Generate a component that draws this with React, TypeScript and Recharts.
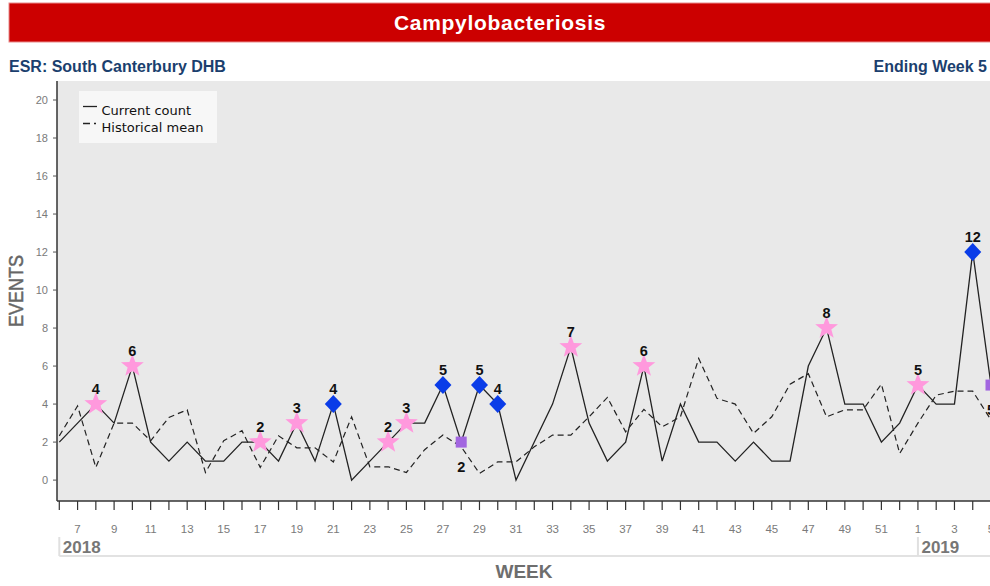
import { LineChart, Line, XAxis, YAxis, CartesianGrid, Legend } from 'recharts';

// week 6 of 2018 through week 5 of 2019
const WEEKS = [
  6, 7, 8, 9, 10, 11, 12, 13, 14, 15, 16, 17, 18, 19, 20, 21, 22, 23, 24, 25, 26, 27, 28, 29,
  30, 31, 32, 33, 34, 35, 36, 37, 38, 39, 40, 41, 42, 43, 44, 45, 46, 47, 48, 49, 50, 51, 52,
  1, 2, 3, 4, 5,
];
const YEARS = ['2018', '2019'];
const YEAR_START_WEEKS = [6, 1];

const CURRENT_COUNT = [
  2, 3, 4, 3, 6, 2, 1, 2, 1, 1, 2, 2, 1, 3, 1, 4,
  0, 1, 2, 3, 3, 5, 2, 5, 4, 0, 2, 4, 7, 3, 1, 2, 6,
  1, 4, 2, 2, 1, 2, 1, 1, 6, 8, 4, 4, 2, 3,
  5, 4, 4, 12, 5,
];
const HISTORICAL_MEAN = [
  2.33, 3.9, 0.67, 3.0, 3.0, 2.07, 3.3, 3.7, 0.4, 2.07, 2.6, 0.67, 2.33, 1.7, 1.7, 0.95,
  3.33, 0.7, 0.7, 0.4, 1.6, 2.37, 1.75, 0.35, 0.96, 0.96, 1.75, 2.37, 2.37, 3.33, 4.35, 2.54, 3.72,
  2.8, 3.33, 6.4, 4.3, 4.0, 2.46, 3.33, 5.05, 5.6, 3.33, 3.7, 3.7, 5.05, 1.4,
  3.0, 4.47, 4.68, 4.68, 3.16,
];

// flagged weeks
const STAR_WEEKS = [8, 10, 17, 19, 24, 25, 34, 38, 48, 1];
const DIAMOND_WEEKS = [21, 27, 29, 30, 4];
const SQUARE_WEEKS = [28, 5];

const Y_TICKS = [0, 2, 4, 6, 8, 10, 12, 14, 16, 18, 20];

const data = WEEKS.map((week, i) => ({
  idx: i,
  week,
  current: CURRENT_COUNT[i],
  mean: HISTORICAL_MEAN[i],
}));

const SANS = 'Liberation Sans, Arial, sans-serif';
const AXIS_GREY = '#7a7a7a';

const starPoints = (cx: number, cy: number, R: number, r: number) =>
  Array.from({ length: 10 }, (_, k) => {
    const a = -Math.PI / 2 + (k * Math.PI) / 5;
    const rad = k % 2 ? r : R;
    return `${cx + rad * Math.cos(a)},${cy + rad * Math.sin(a)}`;
  }).join(' ');

const renderDot = (props: any) => {
  const { cx, cy, index } = props;
  const week = WEEKS[index];
  const value = CURRENT_COUNT[index];
  const labelStyle = { fontFamily: SANS, fontWeight: 700, fontSize: 14.5, fill: '#111' };

  if (STAR_WEEKS.includes(week)) {
    return (
      <g key={`dot-${index}`}>
        <polygon points={starPoints(cx, cy, 12, 5)} fill="#ff99dd" />
        <text x={cx} y={cy - 10.5} textAnchor="middle" {...labelStyle}>{value}</text>
      </g>
    );
  }
  if (DIAMOND_WEEKS.includes(week)) {
    return (
      <g key={`dot-${index}`}>
        <polygon points={`${cx},${cy - 9} ${cx + 8.5},${cy} ${cx},${cy + 9} ${cx - 8.5},${cy}`} fill="#0a3ce8" />
        <text x={cx} y={cy - 10.5} textAnchor="middle" {...labelStyle}>{value}</text>
      </g>
    );
  }
  if (SQUARE_WEEKS.includes(week)) {
    return (
      <g key={`dot-${index}`}>
        <rect x={cx - 5.5} y={cy - 5.5} width={11} height={11} fill="#a266e0" />
        <text x={cx} y={cy + 30} textAnchor="middle" {...labelStyle}>{value}</text>
      </g>
    );
  }
  return <g key={`dot-${index}`} />;
};

const WeekTick = (props: any) => {
  const { x, y, payload } = props;
  const week = WEEKS[payload.value];
  const yearIdx = YEAR_START_WEEKS.indexOf(week);
  return (
    <g>
      {week % 2 === 1 && (
        <text x={x} y={y + 23} textAnchor="middle" fontSize={11.5} fill={AXIS_GREY} fontFamily={SANS}>
          {week}
        </text>
      )}
      {yearIdx >= 0 && (
        <g>
          {yearIdx === 0 && (
            <line x1={x} x2={x + 1000} y1={y + 46} y2={y + 46} stroke="#e2e2e2" strokeWidth={2} />
          )}
          <line x1={x} x2={x} y1={y + 27} y2={y + 46} stroke="#e0e0e0" strokeWidth={2} />
          <text x={x + 3.5} y={y + 42.5} fontSize={17} fontWeight={700} fill="#777" fontFamily={SANS}>
            {YEARS[yearIdx]}
          </text>
        </g>
      )}
    </g>
  );
};

const renderLegend = () => (
  <div style={{ width: 138, height: 52, background: '#f7f7f7' }}>
    <svg width={138} height={52}>
      <line x1={4} x2={18} y1={15.5} y2={15.5} stroke="#222" strokeWidth={1.3} />
      <text x={22.5} y={24} fontSize={13} fontFamily="DejaVu Sans, sans-serif" fill="#111">Current count</text>
      <line x1={4} x2={17} y1={32.5} y2={32.5} stroke="#222" strokeWidth={1.3} strokeDasharray="7 4" />
      <text x={22.5} y={41} fontSize={13} fontFamily="DejaVu Sans, sans-serif" fill="#111">Historical mean</text>
    </svg>
  </div>
);

export default function App() {
  return (
    <div style={{ position: 'absolute', left: 0, top: 0, width: 990, height: 586, overflow: 'hidden', background: '#fff' }}>
      <LineChart
        width={1000}
        height={586}
        data={data}
        margin={{ top: 81, right: 9, bottom: 5, left: 0 }}
      >
        <CartesianGrid fill="#e9e9e9" horizontal={false} vertical={false} />
        <XAxis
          dataKey="idx"
          type="number"
          domain={[-0.126, 51]}
          ticks={data.map(d => d.idx)}
          interval={0}
          height={80}
          tickSize={9}
          tickMargin={0}
          axisLine={{ stroke: '#333', strokeWidth: 1.5 }}
          tickLine={{ stroke: '#333', strokeWidth: 1.2 }}
          tick={<WeekTick />}
          label={{
            content: ({ viewBox }: any) => (
              <text
                x={viewBox.x + viewBox.width / 2}
                y={viewBox.y + viewBox.height - 3}
                textAnchor="middle"
                fontSize={19}
                fontWeight={700}
                fill="#6e6e6e"
                fontFamily={SANS}
              >
                WEEK
              </text>
            ),
          }}
        />
        <YAxis
          type="number"
          domain={[-1.1, 21]}
          ticks={Y_TICKS}
          width={57}
          tickSize={4}
          tickMargin={5}
          axisLine={{ stroke: '#333', strokeWidth: 1.5 }}
          tickLine={{ stroke: '#555' }}
          tick={{ fontSize: 11, fill: AXIS_GREY, fontFamily: SANS }}
          label={{
            content: ({ viewBox }: any) => {
              const lx = viewBox.x + 23.3;
              const ly = viewBox.y + viewBox.height / 2;
              return (
                <text
                  x={lx}
                  y={ly}
                  transform={`rotate(-90 ${lx} ${ly})`}
                  textAnchor="middle"
                  fontSize={21}
                  fill="#666"
                  stroke="#666"
                  strokeWidth={0.5}
                  fontFamily={SANS}
                  textLength={72}
                  lengthAdjust="spacingAndGlyphs"
                >
                  EVENTS
                </text>
              );
            },
          }}
        />
        <Legend
          layout="horizontal"
          verticalAlign="middle"
          align="center"
          wrapperStyle={{ left: 79, top: 91, width: 138, height: 52 }}
          content={renderLegend}
        />
        <Line
          dataKey="mean"
          type="linear"
          stroke="#222"
          strokeWidth={1.2}
          strokeDasharray="6 4"
          dot={false}
          activeDot={false}
          isAnimationActive={false}
        />
        <Line
          dataKey="current"
          type="linear"
          stroke="#222"
          strokeWidth={1.3}
          dot={renderDot}
          activeDot={false}
          isAnimationActive={false}
        />
      </LineChart>
      <svg
        width={990}
        height={81}
        style={{ position: 'absolute', left: 0, top: 0, pointerEvents: 'none' }}
      >
        <rect x={9} y={3} width={990} height={39} fill="#cc0000" stroke="#e88a8a" strokeWidth={1} />
        <text x={500} y={30} textAnchor="middle" fill="#fff" fontSize={21} fontWeight={700} letterSpacing={0.7} fontFamily={SANS}>
          Campylobacteriosis
        </text>
        <text x={9} y={72} fill="#1b3f6e" fontSize={16} fontWeight={700} fontFamily={SANS}>
          ESR: South Canterbury DHB
        </text>
        <text x={987} y={72} textAnchor="end" fill="#1b3f6e" fontSize={16} fontWeight={700} fontFamily={SANS}>
          Ending Week 5
        </text>
      </svg>
    </div>
  );
}
